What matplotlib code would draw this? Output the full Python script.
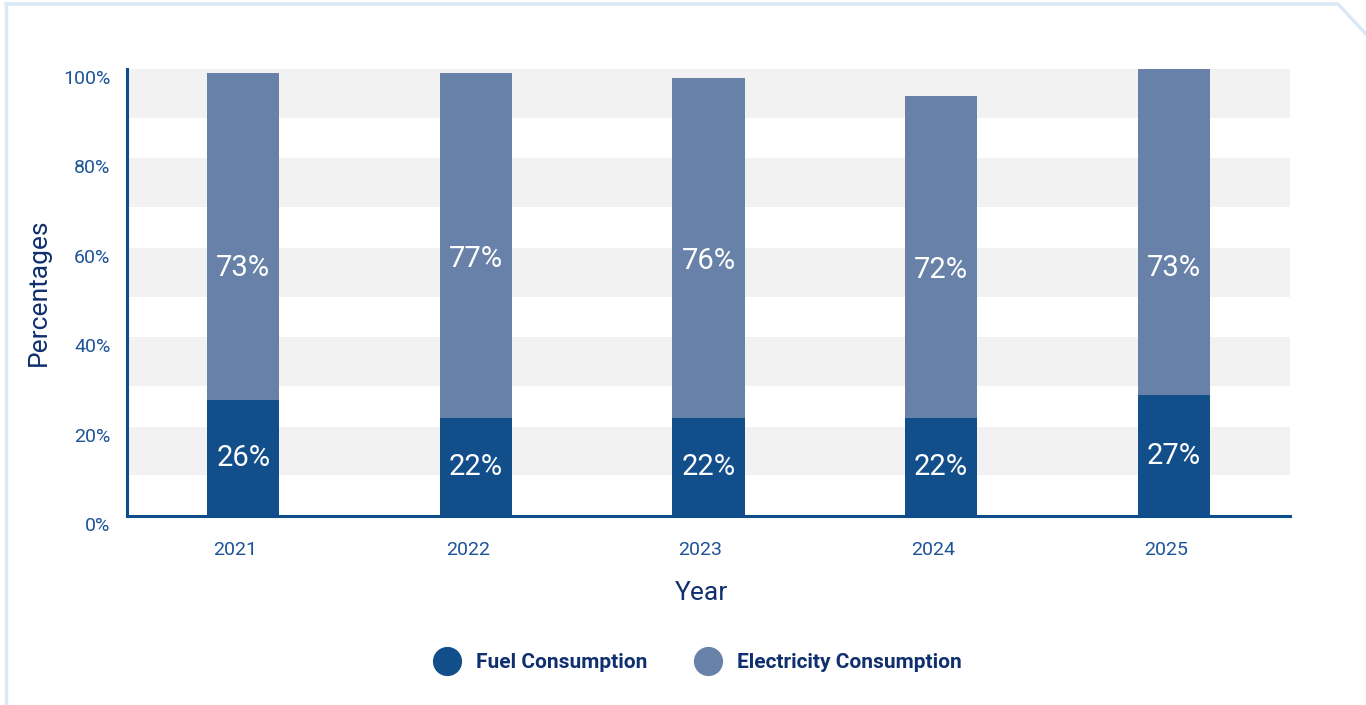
import matplotlib
matplotlib.use("Agg")
import matplotlib.pyplot as plt
import numpy as np
from matplotlib.lines import Line2D
from matplotlib.transforms import ScaledTranslation

years = ["2021", "2022", "2023", "2024", "2025"]
fuel = [26, 22, 22, 22, 27]
electricity = [73, 77, 76, 72, 73]
series_names = ["Fuel Consumption", "Electricity Consumption"]

fuel_color = "#114e8a"
elec_color = "#6781a8"
axis_color = "#0d4d8c"
tick_color = "#1d5496"
legend_text = "#0f2f6e"

plt.rcParams["font.family"] = ["Roboto", "DejaVu Sans"]

fig = plt.figure(figsize=(13.66, 7.05), dpi=100)
ax = fig.add_axes([127 / 1366, 1 - 516 / 705, (1290 - 127) / 1366, (516 - 69) / 705])

# alternating background bands
for k in range(1, 6):
    ax.axhspan(20 * k - 10.9, 20 * k, color="#f2f2f2", zorder=0, lw=0)

x = np.arange(len(years))
w = 0.31
ax.bar(x, fuel, w, color=fuel_color, zorder=2)
ax.bar(x, electricity, w, bottom=fuel, color=elec_color, zorder=2)

for i in range(len(years)):
    ax.text(x[i], fuel[i] / 2, f"{fuel[i]}%", ha="center", va="center",
            color="white", fontsize=21, zorder=3)
    ax.text(x[i], 19 + electricity[i] / 2, f"{electricity[i]}%", ha="center",
            va="center", color="white", fontsize=21, zorder=3)

ax.set_xlim(-0.5, len(years) - 0.5)
ax.set_ylim(0, 100)
ax.set_yticks([0, 20, 40, 60, 80, 100])
ax.set_yticklabels([f"{v}%" for v in [0, 20, 40, 60, 80, 100]])
ax.set_xticks(x)
ax.set_xticklabels(years)
ax.tick_params(length=0, colors=tick_color, labelsize=14, pad=18)
ax.tick_params(axis="y", pad=12)

for s in ["top", "right"]:
    ax.spines[s].set_visible(False)
for s in ["left", "bottom"]:
    ax.spines[s].set_color(axis_color)
    ax.spines[s].set_linewidth(2.2)
    ax.spines[s].set_zorder(4)

# shift labels like the reference
for lab in ax.get_xticklabels():
    lab.set_transform(lab.get_transform() + ScaledTranslation(-8 / 100, 0, fig.dpi_scale_trans))
for lab in ax.get_yticklabels():
    lab.set_transform(lab.get_transform() + ScaledTranslation(0, -8 / 100, fig.dpi_scale_trans))

ax.set_xlabel("Year", fontsize=19, color=legend_text, labelpad=16)
ax.set_ylabel("Percentages", fontsize=19, color=legend_text, labelpad=9)
ax.xaxis.label.set_transform(ax.xaxis.label.get_transform()
                             + ScaledTranslation(-7 / 100, 0, fig.dpi_scale_trans))

handles = [
    Line2D([], [], marker="o", ls="", markersize=20, color=fuel_color),
    Line2D([], [], marker="o", ls="", markersize=20, color=elec_color),
]
leg = fig.legend(handles, series_names, loc="center", bbox_to_anchor=(694 / 1366, 1 - 663 / 705),
                 ncol=2, frameon=False, handletextpad=0.4, columnspacing=1.9,
                 prop={"weight": "bold", "size": 15})
for t in leg.get_texts():
    t.set_color(legend_text)

# card border
border = "#dbe8f6"
fig.add_artist(Line2D([6 / 1366, 1338 / 1366, 1], [1 - 4 / 705, 1 - 4 / 705, 1 - 34 / 705],
                      color=border, lw=2.5))
fig.add_artist(Line2D([6 / 1366, 6 / 1366], [1 - 4 / 705, 0], color=border, lw=2.5))

fig.savefig("out.png", dpi=100)
